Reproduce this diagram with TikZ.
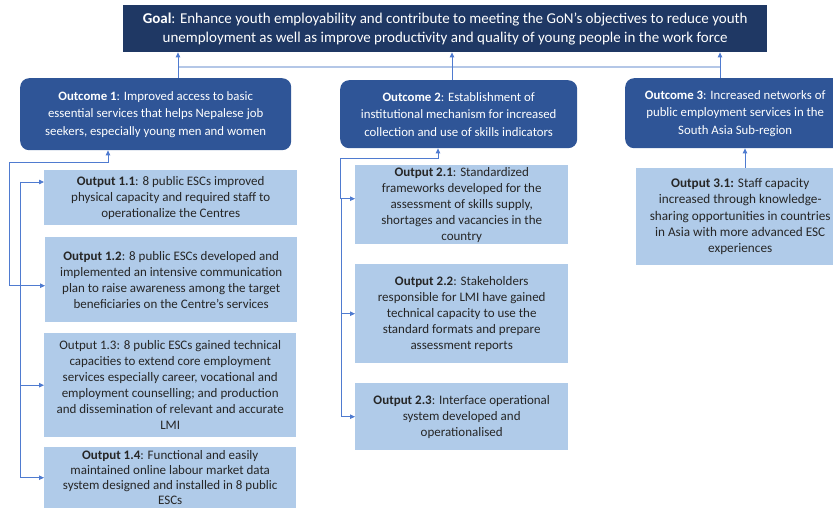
\documentclass[tikz,border=0pt]{standalone}
\usepackage{fontspec}
\setmainfont{Carlito}
\usetikzlibrary{arrows.meta}
\definecolor{goalnavy}{HTML}{1F3864}
\definecolor{outcomeblue}{HTML}{2F5597}
\definecolor{outputblue}{HTML}{B0CBE9}
\definecolor{linkblue}{HTML}{4F7BD0}
\definecolor{barblue}{HTML}{B4C7E7}
\tikzset{
  box/.style={anchor=north west, inner sep=0pt, align=center},
  goalbox/.style={box, fill=goalnavy, text=white, font=\fontsize{15}{19}\selectfont},
  outcomebox/.style={box, fill=outcomeblue, text=white, rounded corners=9pt, font=\fontsize{12.8}{17.5}\selectfont},
  outputbox/.style={box, fill=outputblue, text=black!85, font=\fontsize{13}{16}\selectfont},
  link/.style={draw=linkblue, line width=0.8pt, -{Triangle[length=5pt,width=4.5pt]}},
  twoway/.style={draw=linkblue, line width=0.8pt, {Triangle[length=5pt,width=4.5pt]}-{Triangle[length=5pt,width=4.5pt]}},
  bar/.style={draw=barblue, line width=2pt},
}
\begin{document}
\begin{tikzpicture}[x=1pt,y=-1pt]
\useasboundingbox (0,0) rectangle (833,508);
\clip (0,0) rectangle (833,508);

% goal
\node[goalbox, minimum width=644, minimum height=47] (goal) at (123,5)
  {\textbf{Goal}: Enhance youth employability and contribute to meeting the GoN’s objectives to reduce youth\\
   unemployment as well as improve productivity and quality of young people in the work force};

% outcomes
\node[outcomebox, minimum width=271, minimum height=72] (o1) at (20,78)
  {\textbf{Outcome 1}: Improved access to basic\\essential services that helps Nepalese job\\seekers, especially young men and women};
\node[outcomebox, minimum width=237, minimum height=68] (o2) at (340,80)
  {\textbf{Outcome 2}: Establishment of\\institutional mechanism for increased\\collection and use of skills indicators};
\node[outcomebox, minimum width=220, minimum height=70] (o3) at (625,78)
  {\textbf{Outcome 3}: Increased networks of\\public employment services in the\\South Asia Sub-region};

% outputs of outcome 1
\node[outputbox, minimum width=253, minimum height=55] (o11) at (44,170)
  {\textbf{Output 1.1}: 8 public ESCs improved\\physical capacity and required staff to\\operationalize the Centres};
\node[outputbox, minimum width=252, minimum height=85] (o12) at (45,237)
  {\textbf{Output 1.2}: 8 public ESCs developed and\\implemented an intensive communication\\plan to raise awareness among the target\\beneficiaries on the Centre’s services};
\node[outputbox, minimum width=252, minimum height=104] (o13) at (44,333)
  {Output 1.3: 8 public ESCs gained technical\\capacities to extend core employment\\services especially career, vocational and\\employment counselling; and production\\and dissemination of relevant and accurate\\LMI};
\node[outputbox, font=\fontsize{13}{15}\selectfont, minimum width=252, minimum height=61] (o14) at (44,447)
  {\textbf{Output 1.4}: Functional and easily\\maintained online labour market data\\system designed and installed in 8 public\\ESCs};

% outputs of outcome 2
\node[outputbox, minimum width=213, minimum height=79] (o21) at (355,165)
  {\textbf{Output 2.1}: Standardized\\frameworks developed for the\\assessment of skills supply,\\shortages and vacancies in the\\country};
\node[outputbox, minimum width=213, minimum height=99] (o22) at (355,264)
  {\textbf{Output 2.2}: Stakeholders\\responsible for LMI have gained\\technical capacity to use the\\standard formats and prepare\\assessment reports};
\node[outputbox, minimum width=213, minimum height=67] (o23) at (355,383)
  {\textbf{Output 2.3}: Interface operational\\system developed and\\operationalised};

% output of outcome 3
\node[outputbox, font=\fontsize{13.2}{16.2}\selectfont, minimum width=208, minimum height=97] (o31) at (636,168)
  {\textbf{Output 3.1:} Staff capacity\\increased through knowledge-\\sharing opportunities in countries\\in Asia with more advanced ESC\\experiences};

% outcomes to goal
\coordinate (g1) at (178,67);
\coordinate (g2) at (452,67);
\coordinate (g3) at (720,67);
\draw[bar] (g1) -- (g3);
\draw[link] (g1 |- o1.north) -- (g1 |- goal.south);
\draw[link] (g2 |- o2.north) -- (g2 |- goal.south);
\draw[link] (g3 |- o3.north) -- (g3 |- goal.south);

% outputs to outcome 1
\coordinate (e1) at (108,162);
\coordinate (t1) at (9,162);
\draw[twoway] ([yshift=-6pt]o12.west) -| (t1) -- (e1) -- (e1 |- o1.south);
\coordinate (t2) at (20,182);
\draw[link] (t2) -- (t2 -| o11.west);
\draw[link] (t2) |- (o13.west);
\draw[link] (t2) |- (o14.west);

% outputs to outcome 2
\coordinate (e2) at (438,158);
\coordinate (t3) at (340,158);
\draw[twoway] ([yshift=6pt]o21.west) -| (t3) -- (e2) -- (e2 |- o2.south);
\coordinate (t4) at (341,198);
\draw[link] (t4) |- (o22.west);
\draw[link] (t4) |- (o23.west);

% output to outcome 3
\coordinate (e3) at (745,0);
\draw[link] (e3 |- o31.north) -- (e3 |- o3.south);
\end{tikzpicture}
\end{document}
